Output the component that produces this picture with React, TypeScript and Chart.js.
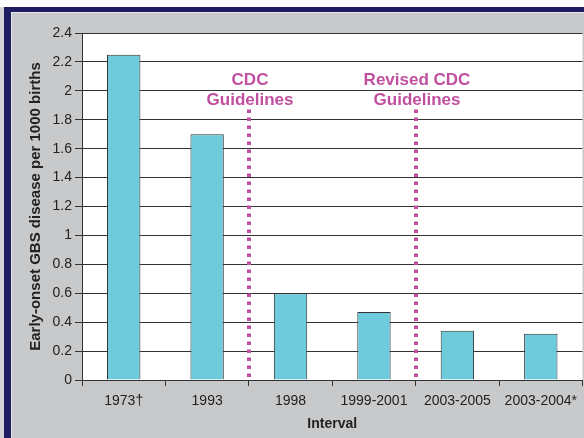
import React, { useEffect, useRef } from 'react';
import { Chart, registerables } from 'chart.js';
Chart.register(...registerables);

const categories = ['1973†', '1993', '1998', '1999-2001', '2003-2005', '2003-2004*'];
const rates = [2.25, 1.7, 0.6, 0.47, 0.34, 0.32];
const yTicks = [0, 0.2, 0.4, 0.6, 0.8, 1, 1.2, 1.4, 1.6, 1.8, 2, 2.2, 2.4];
const guidelineLabels = [['CDC', 'Guidelines'], ['Revised CDC', 'Guidelines']];
const guidelineBoundaries = [1.5, 3.5];
const yTitle = 'Early-onset GBS disease per 1000 births';
const xTitle = 'Interval';

const FONT = 'Arial, "Liberation Sans", sans-serif';
const NAVY = '#1f1c5f';
const PANEL = '#c8c9cb';
const MAGENTA = '#c0509f';

const framePlugin = {
  id: 'frame',
  beforeDraw(chart: any) {
    const { ctx, width, height, chartArea } = chart;
    ctx.save();
    ctx.fillStyle = '#ffffff';
    ctx.fillRect(0, 0, width, height);
    ctx.fillStyle = '#d4d4d8';
    ctx.fillRect(0, 7, 4, height - 7);
    ctx.fillStyle = NAVY;
    ctx.fillRect(4, 7, width - 4, height - 7);
    ctx.fillStyle = '#e6e6ee';
    ctx.fillRect(11, 12, width - 11, height - 12);
    ctx.fillStyle = PANEL;
    ctx.fillRect(12, 13, width - 12, height - 13);
    ctx.fillStyle = '#ffffff';
    ctx.fillRect(chartArea.left, chartArea.top, chartArea.right - chartArea.left, chartArea.bottom - chartArea.top);
    ctx.restore();
  },
  afterDraw(chart: any) {
    const { ctx } = chart;
    const xs = chart.scales.x;
    const ys = chart.scales.y;
    ctx.save();
    guidelineBoundaries.forEach((b, i) => {
      const x = Math.round(xs.getPixelForValue(b));
      const yBottom = ys.getPixelForValue(0);
      const yTop = ys.getPixelForValue(1.88);
      ctx.strokeStyle = MAGENTA;
      ctx.lineWidth = 4;
      ctx.lineCap = 'butt';
      ctx.setLineDash([3.5, 4.5]);
      ctx.beginPath();
      ctx.moveTo(x, yBottom - 3);
      ctx.lineTo(x, yTop);
      ctx.stroke();
      ctx.setLineDash([]);
      ctx.fillStyle = MAGENTA;
      ctx.font = `bold 17px ${FONT}`;
      ctx.textAlign = 'center';
      ctx.textBaseline = 'middle';
      const lines = guidelineLabels[i];
      ctx.fillText(lines[0], x + 1, ys.getPixelForValue(2.07));
      ctx.fillText(lines[1], x + 1, ys.getPixelForValue(1.932));
    });
    ctx.restore();
  },
};

export default function App() {
  const ref = useRef<HTMLCanvasElement>(null);
  useEffect(() => {
    document.body.style.margin = '0';
    const chart = new Chart(ref.current as HTMLCanvasElement, {
      type: 'bar',
      data: {
        labels: categories,
        datasets: [
          {
            data: rates,
            backgroundColor: '#6dcbdc',
            borderColor: '#333333',
            borderWidth: 1,
            categoryPercentage: 1,
            barPercentage: 0.4,
          },
        ],
      },
      options: {
        responsive: false,
        animation: false,
        devicePixelRatio: 1,
        layout: { padding: { top: 33, right: 0, left: 0, bottom: 0 } },
        plugins: { legend: { display: false }, tooltip: { enabled: false } },
        scales: {
          x: {
            type: 'category',
            grid: { display: true, drawOnChartArea: false, drawTicks: true, tickLength: 6, color: '#333333', offset: true },
            border: { display: true, color: '#333333' },
            ticks: { font: { size: 14, family: FONT }, color: '#222222', padding: 7, maxRotation: 0, autoSkip: false },
            title: { display: true, text: xTitle, color: '#222222', font: { size: 14, weight: 'bold', family: FONT }, padding: { top: 0, bottom: 5 } },
            afterFit: (s: any) => { s.height = 58; },
          },
          y: {
            type: 'linear',
            min: 0,
            max: 2.4,
            afterBuildTicks: (s: any) => { s.ticks = yTicks.map((v) => ({ value: v })); },
            grid: { color: '#333333', lineWidth: 1, tickLength: 7, drawTicks: true },
            border: { display: true, color: '#333333' },
            ticks: { font: { size: 14, family: FONT }, color: '#222222', padding: 3, callback: (v: any) => String(Math.round(Number(v) * 10) / 10) },
            title: { display: true, text: yTitle, color: '#222222', font: { size: 15, weight: 'bold', family: FONT }, padding: { top: 27, bottom: 0 } },
            afterFit: (s: any) => { s.width = 82; },
          },
        },
      },
      plugins: [framePlugin],
    } as any);
    return () => chart.destroy();
  }, []);
  return (
    <div style={{ position: 'absolute', left: 0, top: 0, width: 584, height: 438 }}>
      <canvas ref={ref} width={584} height={438} />
    </div>
  );
}
